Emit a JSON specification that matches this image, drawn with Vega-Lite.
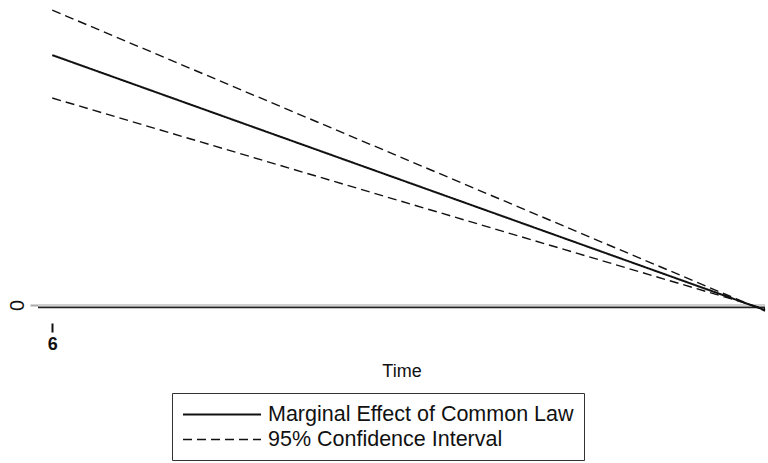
{
  "$schema": "https://vega.github.io/schema/vega-lite/v6.json",
  "width": 727,
  "height": 306,
  "autosize": {"type": "none"},
  "padding": {"left": 38, "top": 5, "right": 3, "bottom": 152},
  "background": "white",
  "config": {
    "view": {"stroke": null},
    "font": "Liberation Sans"
  },
  "layer": [
    {
      "data": {"values": [{"ref": 0}]},
      "mark": {"type": "rule", "color": "#d0d0d0", "strokeWidth": 2},
      "encoding": {
        "y": {"field": "ref", "type": "quantitative", "scale": {"domain": [-2, 100], "nice": false, "zero": false}}
      }
    },
    {
      "data": {"values": [{"base": -0.8}]},
      "mark": {"type": "rule", "color": "#222222", "strokeWidth": 1.6},
      "encoding": {
        "y": {"field": "base", "type": "quantitative"}
      }
    },
    {
      "data": {
        "values": [
          {"line": "effect", "series": "Marginal Effect of Common Law", "t": 0, "v": 83.3},
          {"line": "effect", "series": "Marginal Effect of Common Law", "t": 100, "v": -1.7},
          {"line": "upper", "series": "95% Confidence Interval", "t": 0, "v": 98.3},
          {"line": "upper", "series": "95% Confidence Interval", "t": 100, "v": -2},
          {"line": "lower", "series": "95% Confidence Interval", "t": 0, "v": 69},
          {"line": "lower", "series": "95% Confidence Interval", "t": 100, "v": -1.3}
        ]
      },
      "mark": {"type": "line", "color": "#111111", "clip": false},
      "encoding": {
        "x": {
          "field": "t", "type": "quantitative",
          "scale": {"domain": [-2, 100], "nice": false, "zero": false},
          "axis": {
            "title": "Time", "titleFontSize": 18, "titleFontWeight": "normal", "titlePadding": 9, "titleColor": "#111",
            "values": [0], "labelExpr": "'6'", "labelFontSize": 18, "labelFontWeight": "bold",
            "domain": false, "grid": false, "offset": 12, "tickSize": 9, "tickWidth": 2, "tickColor": "#111",
            "labelColor": "#111", "labelPadding": 3
          }
        },
        "y": {
          "field": "v", "type": "quantitative",
          "axis": {
            "title": null, "values": [0], "labelAngle": -90, "labelFontSize": 20, "labelAlign": "center",
            "labelBaseline": "bottom", "domain": false, "grid": false, "tickSize": 8, "tickColor": "#aaaaaa",
            "tickWidth": 2, "labelPadding": 3, "labelColor": "#111"
          }
        },
        "detail": {"field": "line"},
        "strokeWidth": {
          "field": "series", "type": "nominal",
          "scale": {
            "domain": ["Marginal Effect of Common Law", "95% Confidence Interval"],
            "range": [2, 1.4]
          },
          "legend": null
        },
        "strokeDash": {
          "field": "series", "type": "nominal",
          "scale": {
            "domain": ["Marginal Effect of Common Law", "95% Confidence Interval"],
            "range": [[1, 0], [9, 5]]
          },
          "legend": {
            "title": null, "orient": "none", "legendX": 134, "legendY": 388,
            "direction": "vertical", "symbolType": "M-1,0H6.43", "symbolSize": 441,
            "symbolStrokeWidth": 1.6, "symbolStrokeColor": "#111",
            "labelFontSize": 21.5, "labelColor": "#111", "labelOffset": 63,
            "rowPadding": 3, "padding": 10, "strokeColor": "#333", "fillColor": "white",
            "labelLimit": 500
          }
        }
      }
    }
  ]
}
